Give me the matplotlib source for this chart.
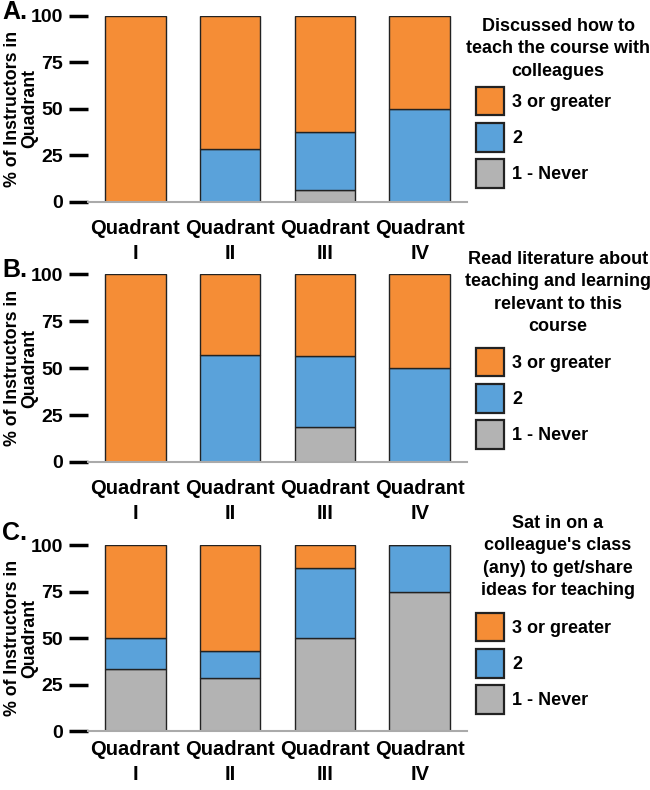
import numpy as np
import matplotlib
matplotlib.use('Agg')
import matplotlib.pyplot as plt
from matplotlib.patches import Patch

plt.rcParams['font.family'] = ['Liberation Sans', 'DejaVu Sans']
plt.rcParams['font.weight'] = 'bold'

# data (percent of instructors in each quadrant)
quadrants = ['Quadrant\nI', 'Quadrant\nII', 'Quadrant\nIII', 'Quadrant\nIV']
levels = ['3 or greater', '2', '1 - Never']

titles = ['Discussed how to\nteach the course with\ncolleagues',
          'Read literature about\nteaching and learning\nrelevant to this\ncourse',
          "Sat in on a\ncolleague's class\n(any) to get/share\nideas for teaching"]
panel_labels = ['A.', 'B.', 'C.']

never_a = [0, 0, 6.25, 0]
two_a = [0, 28.6, 31.25, 50]
three_a = [100, 71.4, 62.5, 50]

never_b = [0, 0, 18.75, 0]
two_b = [0, 57.1, 37.5, 50]
three_b = [100, 42.9, 43.75, 50]

never_c = [33.3, 28.6, 50, 75]
two_c = [16.7, 14.3, 37.5, 25]
three_c = [50, 57.1, 12.5, 0]

panels = [(never_a, two_a, three_a), (never_b, two_b, three_b), (never_c, two_c, three_c)]

c_three = '#F58D36'
c_two = '#5AA2DA'
c_never = '#B3B3B3'
edge = '#222222'

W, H = 650, 790
fig = plt.figure(figsize=(6.5, 7.9), dpi=100)

# axes placement in pixels: (y of 100, y of 0)
ax_rows = [(15.7, 202), (274.3, 462), (545, 731.3)]
title_tops = [18, 251, 515]
legend_tops = [87, 348, 613]
label_y = [12, 270, 533]
xpads = [12.5, 12, 6.5]

x = np.arange(len(quadrants))
for i, ((never, two, three), (top, bot)) in enumerate(zip(panels, ax_rows)):
    ax = fig.add_axes([88 / W, 1 - bot / H, 379 / W, (bot - top) / H])
    never = np.array(never)
    two = np.array(two)
    three = np.array(three)
    ax.bar(x, never, width=0.64, color=c_never, edgecolor=edge, linewidth=1)
    ax.bar(x, two, width=0.64, bottom=never, color=c_two, edgecolor=edge, linewidth=1)
    ax.bar(x, three, width=0.64, bottom=never + two, color=c_three, edgecolor=edge, linewidth=1)

    ax.set_xlim(-0.5, 3.5)
    ax.set_ylim(0, 100)
    ax.set_yticks([0, 25, 50, 75, 100])
    ax.set_xticks(x)
    ax.set_xticklabels(quadrants, fontsize=14.5, fontweight='bold', linespacing=1.4)
    ax.tick_params(axis='x', length=0, pad=xpads[i])
    ax.tick_params(axis='y', length=14, width=2.5, pad=4, labelsize=14)
    for s in ['top', 'right', 'left']:
        ax.spines[s].set_visible(False)
    ax.spines['bottom'].set_color('#AAAAAA')
    ax.spines['bottom'].set_linewidth(1.5)

    ax.set_ylabel('% of Instructors in\nQuadrant', fontsize=12.8, fontweight='bold',
                  linespacing=1.05)
    ax.yaxis.set_label_coords(-0.13, 0.5)

    fig.text(558 / W, 1 - title_tops[i] / H, titles[i], ha='center', va='top',
             fontsize=13, fontweight='bold', linespacing=1.42)

    handles = [Patch(facecolor=c_three, edgecolor=edge, linewidth=1.6),
               Patch(facecolor=c_two, edgecolor=edge, linewidth=1.6),
               Patch(facecolor=c_never, edgecolor=edge, linewidth=1.6)]
    fig.legend(handles, levels, loc='upper left',
               bbox_to_anchor=(476 / W, 1 - legend_tops[i] / H),
               frameon=False, fontsize=13, handlelength=1.55, handleheight=2.05,
               handletextpad=0.45, labelspacing=0.42, borderaxespad=0, borderpad=0)

    fig.text(2 / W, 1 - label_y[i] / H, panel_labels[i], ha='left', va='center',
             fontsize=18, fontweight='bold')

fig.savefig('out.png', dpi=100)
